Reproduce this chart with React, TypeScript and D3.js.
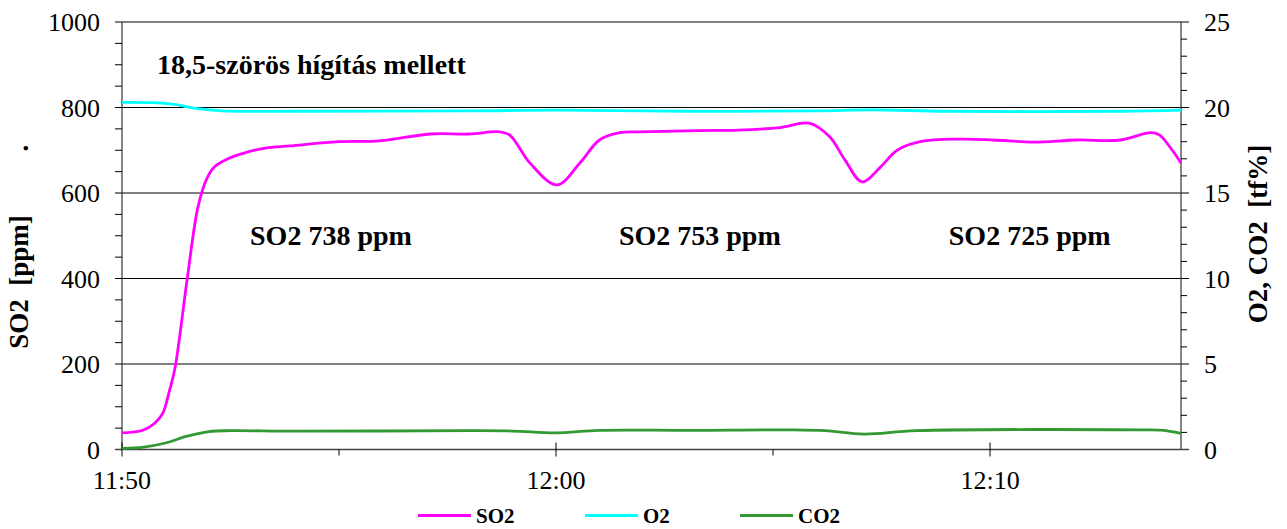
import React from "react";
import * as d3 from "d3";

// minutes after 11:50
const so2Minutes = [0, 0.48, 0.76, 0.94, 1.1, 1.22, 1.5, 1.75, 1.96, 2.14, 2.44, 2.83, 3.3, 3.87, 5, 5.94, 7.1, 8.0, 8.7, 8.94, 9.4, 10.02, 10.55, 11.0, 11.47, 11.94, 13.3, 14.2, 15.16, 15.85, 16.3, 16.66, 17.05, 17.47, 17.86, 18.39, 19.3, 20.07, 21.0, 22.0, 23.0, 23.7, 23.9, 24.2, 24.4];
const so2Values = [39, 45, 62, 85, 140, 190, 397, 567, 635, 662, 680, 694, 705, 710, 720, 722, 738, 738, 743, 735, 670, 619, 670, 724, 741, 743, 746, 747, 753, 763, 732, 677, 626, 660, 700, 720, 726, 724, 719, 724, 724, 741, 736, 700, 670];

const o2Minutes = [0, 0.7, 1.2, 1.7, 2.3, 4, 8, 10, 13, 16, 17.3, 19, 23, 24.4];
const o2Values = [20.3, 20.28, 20.18, 19.95, 19.8, 19.78, 19.8, 19.85, 19.78, 19.8, 19.86, 19.78, 19.78, 19.85];

const co2Minutes = [0, 0.5, 1.0, 1.5, 2.0, 2.5, 4, 8, 9, 10, 11, 13, 15.5, 16.2, 17.1, 18.3, 23.5, 24.0, 24.4];
const co2Values = [0.07, 0.14, 0.38, 0.78, 1.05, 1.1, 1.07, 1.1, 1.08, 0.97, 1.12, 1.12, 1.15, 1.1, 0.9, 1.1, 1.15, 1.12, 0.95];

const leftTicks = [0, 200, 400, 600, 800, 1000];
const rightTicks = [0, 5, 10, 15, 20, 25];
const xTickLabels = ["11:50", "12:00", "12:10"];

const annotationTitle = "18,5-szörös hígítás mellett";
const levelLabels = ["SO2 738 ppm", "SO2 753 ppm", "SO2 725 ppm"];
const levelLabelMinutes = [2.95, 11.45, 19.05];

const seriesNames = ["SO2", "O2", "CO2"];
const seriesColors = ["#FF00FF", "#00FFFF", "#339933"];

const START = new Date(2000, 0, 1, 11, 50, 0);
const toDate = (m: number) => new Date(START.getTime() + m * 60000);

export default function App() {
  const W = 1287, H = 529;
  const left = 122, right = 1181, top = 22, bottom = 449.5;
  const x = d3.scaleTime().domain([START, toDate(24.4)]).range([left, right]);
  const yL = d3.scaleLinear().domain([0, 1000]).range([bottom, top]);
  const yR = d3.scaleLinear().domain([0, 25]).range([bottom, top]);
  const font = "'Liberation Serif', 'Times New Roman', 'DejaVu Serif', serif";

  const lineL = d3.line<[number, number]>().x(d => x(toDate(d[0]))).y(d => yL(d[1])).curve(d3.curveCatmullRom.alpha(0.5));
  const lineR = d3.line<[number, number]>().x(d => x(toDate(d[0]))).y(d => yR(d[1])).curve(d3.curveCatmullRom.alpha(0.5));

  const so2 = so2Minutes.map((m, i) => [m, so2Values[i]] as [number, number]);
  const o2 = o2Minutes.map((m, i) => [m, o2Values[i]] as [number, number]);
  const co2 = co2Minutes.map((m, i) => [m, co2Values[i]] as [number, number]);

  const leftMinor = d3.range(0, 1001, 50);
  const rightMinor = d3.range(0, 26, 1);
  const xMajor = [0, 10, 20];
  const xMinor = [5, 15];
  const axisColor = "#444";

  const legendX = [418, 585, 740];

  return (
    <svg width={W} height={H} style={{ position: "absolute", left: 0, top: 0, background: "#fff" }} fontFamily={font}>
      {/* gridlines */}
      {leftTicks.filter(t => t > 0).map(t => (
        <line key={"g" + t} x1={left} x2={right} y1={yL(t)} y2={yL(t)} stroke="#000" strokeWidth={1} />
      ))}
      {/* left axis */}
      <line x1={left} x2={left} y1={top} y2={bottom} stroke={axisColor} strokeWidth={1.3} />
      {leftMinor.map(t => (
        <line key={"lm" + t} x1={left - 7} x2={left} y1={yL(t)} y2={yL(t)} stroke="#000" strokeWidth={1} />
      ))}
      {leftTicks.map(t => (
        <text key={"lt" + t} x={100} y={yL(t)} dy="0.35em" textAnchor="end" fontSize={26} fill="#000">{t}</text>
      ))}
      {/* right axis */}
      <line x1={right} x2={right} y1={top} y2={bottom} stroke={axisColor} strokeWidth={1.3} />
      {rightMinor.map(t => (
        <line key={"rm" + t} x1={right} x2={right + (t % 5 === 0 ? 8 : 6)} y1={yR(t)} y2={yR(t)} stroke="#000" strokeWidth={1} />
      ))}
      {rightTicks.map(t => (
        <text key={"rt" + t} x={1204} y={yR(t)} dy="0.35em" textAnchor="start" fontSize={26} fill="#000">{t}</text>
      ))}
      {/* x axis */}
      <line x1={left - 7} x2={right + 8} y1={bottom} y2={bottom} stroke={axisColor} strokeWidth={1.3} />
      {xMajor.map(m => (
        <line key={"xm" + m} x1={x(toDate(m))} x2={x(toDate(m))} y1={bottom - 7} y2={bottom + 7} stroke="#000" strokeWidth={1} />
      ))}
      {xMinor.map(m => (
        <line key={"xn" + m} x1={x(toDate(m))} x2={x(toDate(m))} y1={bottom} y2={bottom + 6} stroke="#000" strokeWidth={1} />
      ))}
      {xMajor.map((m, i) => (
        <text key={"xl" + m} x={x(toDate(m))} y={489} textAnchor="middle" fontSize={26} fill="#000">{xTickLabels[i]}</text>
      ))}

      {/* series */}
      <path d={lineR(o2) || ""} fill="none" stroke={seriesColors[1]} strokeWidth={2.8} />
      <path d={lineR(co2) || ""} fill="none" stroke={seriesColors[2]} strokeWidth={2.8} />
      <path d={lineL(so2) || ""} fill="none" stroke={seriesColors[0]} strokeWidth={2.8} />

      {/* annotations */}
      <text x={157} y={74} fontSize={28} fontWeight="bold" fill="#000">{annotationTitle}</text>
      {levelLabels.map((t, i) => (
        <text key={t} x={x(toDate(levelLabelMinutes[i]))} y={245} fontSize={28} fontWeight="bold" fill="#000">{t}</text>
      ))}

      {/* axis titles */}
      <text transform="translate(28,282) rotate(-90)" textAnchor="middle" fontSize={27} fontWeight="bold" fill="#000" style={{ whiteSpace: "pre" }}>{"SO2  [ppm]"}</text>
      <text transform="translate(28,148) rotate(-90)" textAnchor="middle" fontSize={27} fontWeight="bold" fill="#000">.</text>
      <text transform="translate(1267,234) rotate(-90)" textAnchor="middle" fontSize={27} fontWeight="bold" fill="#000" style={{ whiteSpace: "pre" }}>{"O2, CO2  [tf%]"}</text>

      {/* legend */}
      {seriesNames.map((n, i) => (
        <g key={n}>
          <line x1={legendX[i]} x2={legendX[i] + 53} y1={515.5} y2={515.5} stroke={seriesColors[i]} strokeWidth={2.8} />
          <text x={legendX[i] + 58} y={523} fontSize={21} fontWeight="bold" fill="#000">{n}</text>
        </g>
      ))}
    </svg>
  );
}
